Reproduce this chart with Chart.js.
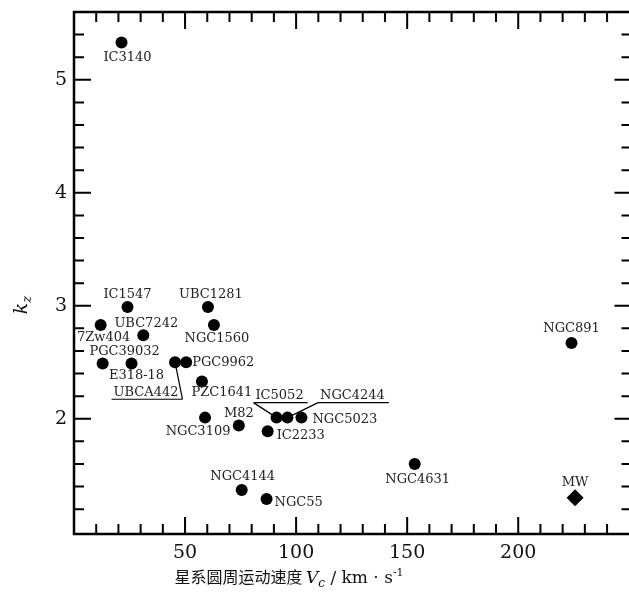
<!DOCTYPE html>
<html>
<head>
<meta charset="utf-8">
<script src="https://cdn.jsdelivr.net/npm/chart.js@4.4.0/dist/chart.umd.min.js"></script>
<style>
  html, body { margin: 0; padding: 0; overflow: hidden; background: #fff; width: 629px; height: 594px; }
  #wrap { width: 629px; height: 594px; overflow: hidden; position: relative; }
  #kzChart { position: absolute; left: 0; top: 0; }
</style>
</head>
<body>
<div id="wrap"><canvas id="kzChart" width="640" height="594"></canvas></div>
<script>
// galaxies: circular speed Vc (km/s) and kz
const names = ['IC3140', 'IC1547', 'UBC1281', '7Zw404', 'UBC7242', 'NGC1560', 'PGC39032', 'E318-18',
    'UBCA442', 'PGC9962', 'PZC1641', 'NGC3109', 'M82', 'IC5052', 'NGC4244', 'NGC5023', 'IC2233',
    'NGC4631', 'NGC4144', 'NGC55', 'NGC891'];
const vc = [21.4, 24.1, 60.3, 12.0, 31.2, 63.0, 12.9, 25.9, 45.5, 50.5, 57.6, 59.0, 74.2, 91.2, 96.1,
    102.4, 87.2, 153.4, 75.5, 86.7, 224.0];
const kz = [5.33, 2.99, 2.99, 2.83, 2.74, 2.83, 2.49, 2.49, 2.50, 2.50, 2.33, 2.01, 1.94, 2.01, 2.01,
    2.01, 1.89, 1.60, 1.37, 1.29, 2.67];

// Milky Way (diamond)
const mwName = ['MW'];
const mwVc = [225.6];
const mwKz = [1.30];

const xTicks = [50, 100, 150, 200];
const yTicks = [2, 3, 4, 5];

// label placement: dx, dy from the point centre, text align
const labelPos = {
    'IC3140': [6, 15, 'center'], 'IC1547': [0, -12, 'center'], 'UBC1281': [3, -12, 'center'],
    '7Zw404': [3, 13, 'center'], 'UBC7242': [3, -12, 'center'], 'NGC1560': [3, 14, 'center'],
    'PGC39032': [22, -12, 'center'], 'E318-18': [5, 12, 'center'], 'UBCA442': [-29, 30, 'center'],
    'PGC9962': [6, 0, 'left'], 'PZC1641': [20, 11, 'center'], 'NGC3109': [-7, 14, 'center'],
    'M82': [0, -12, 'center'], 'IC5052': [3, -22, 'center'], 'NGC4244': [65, -22, 'center'],
    'NGC5023': [11, 2, 'left'], 'IC2233': [9, 4, 'left'], 'NGC4631': [3, 16, 'center'],
    'NGC4144': [1, -13, 'center'], 'NGC55': [8, 4, 'left'], 'NGC891': [0, -14, 'center'],
    'MW': [0, -15, 'center']
};
// underlined labels with a leader line ('left' / 'right' = which end of the underline)
const leaders = { 'UBCA442': 'right', 'IC5052': 'left', 'NGC4244': 'left' };

const serif = '"DejaVu Serif", "Liberation Serif", serif';

function labelBox(ctx, name, px, py) {
    const p = labelPos[name];
    const w = ctx.measureText(name).width;
    const cx = px + p[0], cy = py + p[1];
    const left = p[2] === 'left' ? cx : cx - w / 2;
    return { x: cx, y: cy, left: left, right: left + w, align: p[2] };
}

function eachLabel(chart, fn) {
    const xs = chart.scales.x, ys = chart.scales.y;
    names.forEach((n, i) => fn(n, xs.getPixelForValue(vc[i]), ys.getPixelForValue(kz[i])));
    mwName.forEach((n, i) => fn(n, xs.getPixelForValue(mwVc[i]), ys.getPixelForValue(mwKz[i])));
}

const frame = {
    id: 'frame',
    beforeDatasetsDraw(chart) {
        const ctx = chart.ctx;
        ctx.save();
        ctx.font = '13px ' + serif;
        ctx.strokeStyle = '#000';
        ctx.lineWidth = 1.2;
        eachLabel(chart, (n, px, py) => {
            if (!leaders[n]) return;
            const b = labelBox(ctx, n, px, py);
            const uy = b.y + 7;
            const l = b.left - 2, r = b.right + 4;
            ctx.beginPath();
            ctx.moveTo(l, uy);
            ctx.lineTo(r, uy);
            const ex = leaders[n] === 'right' ? r : l;
            ctx.moveTo(ex, uy);
            ctx.lineTo(px, py);
            ctx.stroke();
        });
        ctx.restore();
    },
    afterDatasetsDraw(chart) {
        const ctx = chart.ctx;
        ctx.save();
        ctx.font = '13px ' + serif;
        ctx.fillStyle = '#222';
        ctx.textBaseline = 'middle';
        eachLabel(chart, (n, px, py) => {
            const b = labelBox(ctx, n, px, py);
            ctx.textAlign = b.align;
            ctx.fillText(n, b.x, b.y);
        });
        ctx.restore();
    },
    afterDraw(chart) {
        const ctx = chart.ctx, a = chart.chartArea;
        const xs = chart.scales.x, ys = chart.scales.y;
        ctx.save();
        ctx.strokeStyle = '#000';
        ctx.lineWidth = 2;
        ctx.beginPath();
        // x ticks every 10, long at 50s
        for (let v = 10; v <= 250; v += 10) {
            const px = xs.getPixelForValue(v);
            if (px > a.right - 3) continue;
            const len = v % 50 === 0 ? 17 : 10;
            ctx.moveTo(px, a.bottom); ctx.lineTo(px, a.bottom - len);
            ctx.moveTo(px, a.top); ctx.lineTo(px, a.top + len);
        }
        // y ticks every 0.2, long at integers
        for (let i = 5; i <= 28; i++) {
            const py = ys.getPixelForValue(i / 5);
            if (py > a.bottom - 3 || py < a.top + 3) continue;
            const len = i % 5 === 0 ? 17 : 10;
            ctx.moveTo(a.left, py); ctx.lineTo(a.left + len, py);
            ctx.moveTo(a.right, py); ctx.lineTo(a.right - len, py);
        }
        ctx.stroke();
        ctx.lineWidth = 2.5;
        ctx.strokeRect(a.left, a.top, a.right - a.left, a.bottom - a.top);

        // x axis title
        ctx.fillStyle = '#111';
        ctx.textBaseline = 'alphabetic';
        ctx.textAlign = 'left';
        const parts = [
            ['星系圆周运动速度 ', '16px "Noto Sans CJK SC", sans-serif', 0],
            ['V', 'italic 17px ' + serif, 0],
            ['c', 'italic 12px ' + serif, 4],
            [' / km · s', '17px ' + serif, 0],
            ['-1', '11px ' + serif, -7]
        ];
        let total = 0;
        parts.forEach(p => { ctx.font = p[1]; total += ctx.measureText(p[0]).width; });
        let x = 289 - total / 2;
        const base = 583;
        parts.forEach(p => {
            ctx.font = p[1];
            ctx.fillText(p[0], x, base + p[2]);
            x += ctx.measureText(p[0]).width;
        });

        // y axis title
        ctx.translate(27, 305);
        ctx.rotate(-Math.PI / 2);
        ctx.font = 'italic 19px ' + serif;
        const kw = ctx.measureText('k').width;
        ctx.font = 'italic 13px ' + serif;
        const zw = ctx.measureText('z').width;
        let tx = -(kw + zw) / 2;
        ctx.font = 'italic 19px ' + serif;
        ctx.fillText('k', tx, 0);
        ctx.font = 'italic 13px ' + serif;
        ctx.fillText('z', tx + kw, 4);
        ctx.restore();
    }
};

const tickFont = { family: serif, size: 19 };

function noPad(s) {
    s.paddingTop = 0; s.paddingBottom = 0; s.paddingLeft = 0; s.paddingRight = 0;
}

new Chart(document.getElementById('kzChart'), {
    type: 'scatter',
    data: {
        datasets: [{
            label: 'galaxies',
            data: vc.map((v, i) => ({ x: v, y: kz[i] })),
            pointStyle: 'circle',
            pointRadius: 6,
            backgroundColor: '#000',
            borderColor: '#000',
            borderWidth: 0
        }, {
            label: 'MW',
            data: mwVc.map((v, i) => ({ x: v, y: mwKz[i] })),
            pointStyle: 'rectRot',
            pointRadius: 8.5,
            backgroundColor: '#000',
            borderColor: '#000',
            borderWidth: 0
        }]
    },
    options: {
        responsive: false,
        animation: false,
        layout: { padding: { left: 0, right: 5, top: 12, bottom: 0 } },
        plugins: { legend: { display: false }, tooltip: { enabled: false } },
        scales: {
            x: {
                type: 'linear',
                min: 0,
                max: 251,
                afterBuildTicks: s => { s.ticks = xTicks.map(v => ({ value: v })); },
                afterFit: s => { s.height = 60; noPad(s); },
                grid: { display: false, drawTicks: false },
                border: { display: false },
                ticks: { font: tickFont, color: '#111', padding: 8, maxRotation: 0, autoSkip: false }
            },
            y: {
                type: 'linear',
                min: 0.98,
                max: 5.6,
                afterBuildTicks: s => { s.ticks = yTicks.map(v => ({ value: v })); },
                afterFit: s => { s.width = 74; noPad(s); },
                grid: { display: false, drawTicks: false },
                border: { display: false },
                ticks: { font: tickFont, color: '#111', padding: 7, autoSkip: false }
            }
        }
    },
    plugins: [frame]
});
</script>
</body>
</html>
